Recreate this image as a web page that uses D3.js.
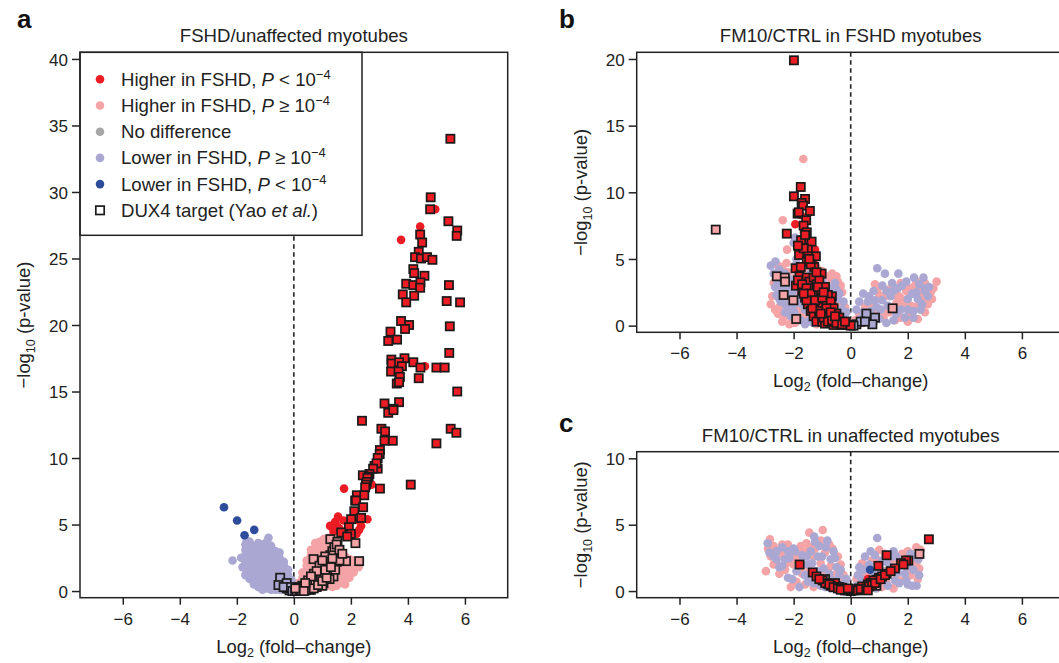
<!DOCTYPE html>
<html>
<head>
<meta charset="utf-8">
<script src="https://cdn.jsdelivr.net/npm/d3@7"></script>
<style>
  body { margin: 0; background: #fff; }
  svg { font-family: "Liberation Sans", Arial, Helvetica, sans-serif; }
  .tick text { font-size: 17px; fill: #222; }
  .tick line { stroke: #222; stroke-width: 1.5; }
</style>
</head>
<body>
<div id="chart"></div>
<script>
// ---- data: [log2 fold-change, -log10 p] ----
const xTicks = [-6, -4, -2, 0, 2, 4, 6];

// panel a: FSHD / unaffected
const aLowerNs = [
  [-2.15,2.3],[-1.80,1.8],[-1.85,2.5],[-1.65,3.8],[-0.89,4.0],
  [-1.7,1.2],[-1.7,1.7],[-1.7,2.2],[-1.7,2.7],[-1.7,3.1],[-1.7,3.5],
  [-1.55,0.9],[-1.55,1.4],[-1.55,1.9],[-1.55,2.4],[-1.55,2.9],[-1.55,3.3],[-1.55,3.7],
  [-1.4,0.5],[-1.4,1.0],[-1.4,1.5],[-1.4,2.0],[-1.4,2.5],[-1.4,3.0],[-1.4,3.4],
  [-1.25,0.3],[-1.25,0.8],[-1.25,1.3],[-1.25,1.8],[-1.25,2.3],[-1.25,2.8],[-1.25,3.2],[-1.25,3.6],
  [-1.1,0.1],[-1.1,0.6],[-1.1,1.1],[-1.1,1.6],[-1.1,2.1],[-1.1,2.6],[-1.1,3.0],[-1.1,3.5],
  [-0.95,0.2],[-0.95,0.7],[-0.95,1.2],[-0.95,1.7],[-0.95,2.2],[-0.95,2.7],[-0.95,3.2],[-0.95,3.7],
  [-0.8,0.1],[-0.8,0.5],[-0.8,1.0],[-0.8,1.5],[-0.8,2.0],[-0.8,2.5],[-0.8,3.0],[-0.8,3.4],
  [-0.65,0.1],[-0.65,0.6],[-0.65,1.1],[-0.65,1.6],[-0.65,2.1],[-0.65,2.6],[-0.65,3.0],
  [-0.5,0.1],[-0.5,0.5],[-0.5,1.0],[-0.5,1.5],[-0.5,2.0],[-0.5,2.5],[-0.5,2.9],
  [-0.35,0.1],[-0.35,0.5],[-0.35,0.9],[-0.35,1.4],[-0.35,1.9],[-0.35,2.2],
  [-0.2,0.1],[-0.2,0.4],[-0.2,0.8],[-0.2,1.2],[-0.2,1.6],
  [-0.08,0.1],[-0.08,0.4],[-0.08,0.8]
];
const aHigherNs = [
  [0.15,0.2],[0.15,0.6],
  [0.3,0.2],[0.3,0.6],[0.3,1.0],[0.3,1.4],
  [0.45,0.3],[0.45,0.7],[0.45,1.1],[0.45,1.5],[0.45,1.9],[0.45,2.3],
  [0.6,0.3],[0.6,0.7],[0.6,1.1],[0.6,1.5],[0.6,1.9],[0.6,2.3],[0.6,2.7],[0.6,3.1],
  [0.75,0.3],[0.75,0.7],[0.75,1.1],[0.75,1.5],[0.75,1.9],[0.75,2.3],[0.75,2.7],[0.75,3.1],[0.75,3.6],
  [0.9,0.3],[0.9,0.7],[0.9,1.1],[0.9,1.5],[0.9,1.9],[0.9,2.3],[0.9,2.7],[0.9,3.2],[0.9,3.7],
  [1.05,0.3],[1.05,0.7],[1.05,1.1],[1.05,1.5],[1.05,1.9],[1.05,2.4],[1.05,2.9],[1.05,3.4],[1.05,3.9],
  [1.2,0.4],[1.2,0.8],[1.2,1.2],[1.2,1.6],[1.2,2.0],[1.2,2.5],[1.2,3.0],[1.2,3.5],[1.2,4.0],
  [1.35,0.3],[1.35,0.8],[1.35,1.2],[1.35,1.6],[1.35,2.0],[1.35,2.5],[1.35,3.0],[1.35,3.5],[1.35,4.1],
  [1.5,0.4],[1.5,0.9],[1.5,1.3],[1.5,1.7],[1.5,2.2],[1.5,2.7],[1.5,3.2],
  [1.65,0.6],[1.65,1.0],[1.65,1.5],[1.65,2.0],[1.65,2.5],[1.65,3.0],
  [1.8,0.5],[1.8,1.1],[1.8,1.6],[1.8,2.1],[1.8,2.6],
  [1.95,1.0],[1.95,1.5],[1.95,2.0],[1.95,2.4],
  [2.1,1.4],[2.1,1.9],[2.1,2.3],[2.27,1.8],[2.27,2.2],[1.74,0.7]
];
const aHigherSig = [
  [4.96,28.7],[4.43,27.4],[3.76,26.4],[4.60,16.9],[1.76,7.7],[2.73,8.0],
  [1.27,4.9],[1.38,4.9],[1.51,4.9],[1.39,4.5],[1.45,5.2],[1.60,4.7],[1.74,5.3],
  [2.36,4.9],[2.58,5.4],[2.29,4.6],[2.27,5.3],[2.20,4.3],[1.55,5.6],[1.65,4.4]
];
const aLowerSig = [[-2.45,6.3],[-1.99,5.3],[-1.39,4.6],[-1.73,4.2]];
const aDuxHigh = [
  [5.49,34.0],[4.80,29.6],[4.78,28.7],[5.42,27.8],[5.73,27.1],[5.71,26.7],[4.43,26.8],[4.50,26.2],
  [4.38,25.5],[4.25,25.1],[4.46,25.0],[4.67,25.1],[4.86,24.9],[4.19,24.2],
  [4.22,23.9],[4.58,23.7],[3.94,23.1],[4.19,23.0],[4.44,23.2],[4.43,22.8],[5.44,23.0],[3.82,22.3],
  [4.22,22.2],[3.94,21.7],[5.36,21.8],[5.83,21.7],
  [3.76,20.3],[4.04,20.0],[3.90,19.7],[3.39,19.5],[3.62,18.9],[3.31,18.8],[5.47,19.9],[5.45,17.9],
  [3.42,17.4],[3.43,17.1],[3.88,17.5],[3.69,17.2],[3.79,16.9],[4.19,17.2],[4.44,16.8],[3.41,16.5],
  [3.67,16.5],[5.00,16.8],[5.29,16.8],[3.72,16.1],[4.38,16.0],[3.61,15.6],[3.69,15.7],[5.73,15.0],
  [3.18,14.1],[3.69,14.2],[3.49,13.7],[3.31,13.4],[3.49,13.6],[2.39,12.8],[5.50,12.2],[5.70,11.9],
  [3.07,12.2],[3.20,12.0],[3.47,11.3],[3.18,11.3],[5.00,11.1],[3.02,10.6],[3.01,10.3],[2.94,10.0],
  [2.83,9.4],[2.94,9.2],[2.90,9.6],[2.78,9.2],[2.65,8.8],[2.42,8.7],[2.62,8.6],[2.58,8.5],[2.56,8.2],
  [2.53,8.0],[3.02,7.7],[4.10,8.0],[2.50,7.8],[2.21,7.2],[2.47,7.2],[2.15,6.8],[2.18,6.8],[2.43,6.3],
  [2.12,6.0],[2.36,5.5],[2.01,5.4],[1.93,4.8],[1.66,4.4],[2.00,4.3],[1.87,4.1]
];
const aDuxMid = [
  [2.16,3.6],[1.28,3.9],[1.83,2.25],[2.29,2.25],[0.69,2.4],[1.53,3.7],[1.16,1.3],[1.39,1.1],
  [0.81,0.7],[1.04,0.6],[1.51,2.2],
  [0.05,0.05],[0.15,0.1],[0.25,0.2],[0.35,0.3],[0.45,0.45],[0.55,0.6],[0.65,0.8],[0.75,1.0],
  [0.85,1.25],[0.95,1.5],[1.05,1.8],[1.12,2.1],[1.2,2.4],[1.28,2.7],[1.35,3.0],[1.42,3.3],
  [1.5,3.5],[1.6,3.1],[0.1,0.0],[0.2,0.05],[0.3,0.1],[0.4,0.15],[0.5,0.25],[0.6,0.35],[0.7,0.5],
  [0.8,0.65],[0.9,0.85],[1.0,1.05],[0.3,0.4],[0.5,0.8],[0.7,1.3],[0.9,1.9],[1.1,2.6],[1.3,2.2],
  [1.2,1.6],[0.2,0.3],[0.6,0.1],[0.8,0.3],[1.0,0.4],[0.4,0.05],[1.25,0.9],[1.45,1.6],[1.6,2.3],[1.7,2.8],
  [0.15,0.25],[0.25,0.05],[0.35,0.15],[0.45,0.25],[0.55,0.35],[0.65,0.5],[0.75,0.6],[0.85,0.8],
  [0.95,1.0],[0.55,0.1],[0.7,0.2],[0.85,0.45],[1.0,0.75],[1.15,1.0],[1.1,1.6],[0.8,1.5],[0.6,1.1],
  [0.4,0.6],[1.3,1.8],[1.35,2.45],[1.0,2.3],[0.35,0.0],[0.05,0.2]
];
const aDuxLow = [[-0.05,0.1],[-0.15,0.05],[-0.25,0.2],[-0.48,1.0],[-0.54,0.45],[-0.25,0.6],[-0.36,0.3],[-0.1,0.3],[-0.05,0.0]];

// panel b: FM10/CTRL in FSHD myotubes
const bLowerNs = [
  [-2.64,4.8],[-2.5,4.2],[-2.3,3.9],[-2.55,3.2],[-2.4,2.7],[-2.2,2.2],[-2.45,1.8],[-2.1,1.4],
  [-2.3,1.0],[-1.95,0.8],[-1.75,0.4],[-1.5,0.3],[-1.3,0.2],[-1.1,0.6],[-0.9,0.3],[-0.7,0.2],
  [-0.5,0.4],[-0.35,0.8],[-0.55,1.3],[-0.8,1.8],[-0.6,2.3],[-0.75,2.8],[-0.55,3.2],[-1.05,3.0],
  [-1.2,2.5],[-1.35,2.0],[-1.6,1.2],[-1.8,2.0],[-2.0,2.8],[-2.15,3.5],[-1.95,4.5],[-2.0,6.2],
  [-1.7,6.5],[-1.9,5.0],[-1.2,3.8],[-1.0,1.6],[-0.3,1.2],[-0.2,0.6],[-0.45,2.0],[-1.4,0.9],
  [-2.6,2.3],[-1.5,5.6],[-1.95,6.6],
  [-2.7,3.9],[-2.45,3.6],[-2.25,3.1],[-2.05,2.5],[-1.85,3.3],[-1.6,3.5],[-1.4,3.9],[-1.0,3.3],
  [-0.85,3.0],[-0.65,2.6],[-0.4,2.4],[-0.25,1.8],[-0.15,1.0],[-0.35,0.2],[-0.6,0.1],[-1.0,0.8],
  [-1.2,1.2],[-1.45,1.4],[-1.7,1.6],[-1.9,1.7],[-2.15,2.6],[-2.3,1.6],[-2.5,2.0],[-2.65,2.9],
  [-2.0,1.1],[-1.6,0.1],[-1.85,0.6],[-2.1,0.7],[-0.7,1.5],[-0.5,2.7],[-0.9,2.6],[-1.15,2.2],
  [-1.35,2.6],[-1.55,2.3],[-1.75,2.3],[-2.8,4.5],
  [0.93,4.3],[1.20,3.9],[1.67,3.9],[2.22,3.6],[2.55,3.6],[2.63,2.8],[1.11,3.0],[0.44,2.4],
  [0.2,1.2],[0.35,0.5],[0.6,1.8],[0.8,2.6],[0.7,1.1],[1.0,0.5],[1.3,1.5],[1.5,2.6],[1.8,3.0],
  [2.0,2.0],[2.3,2.5],[2.5,1.6],[2.2,1.1],[1.9,0.6],[1.6,0.9],[1.4,2.2],[1.1,1.9],[0.9,1.4],
  [0.55,0.3],[2.7,2.2],[2.4,3.1],[1.25,0.2],
  [0.3,1.8],[0.45,1.0],[0.65,2.2],[0.85,1.9],[1.05,1.2],[1.25,2.6],[1.45,3.2],[1.65,2.8],
  [1.75,1.2],[2.0,1.2],[2.15,2.4],[2.35,2.0],[2.6,2.6],[2.75,2.9],[2.45,1.2],[2.2,0.6],
  [1.5,0.4],[0.8,0.2],[0.25,0.2],[1.95,3.3]
];
const bHigherNs = [
  [-1.66,12.5],[-2.38,7.9],[-2.23,5.7],[-2.75,2.2],[-2.6,3.5],[-2.4,4.4],[-2.2,4.0],[-2.35,3.0],
  [-2.2,1.0],[-2.35,0.6],[-2.05,0.4],[-1.85,1.2],[-1.65,0.6],[-1.4,0.4],[-1.2,0.1],[-1.0,0.2],
  [-0.8,0.5],[-0.6,0.7],[-0.4,1.5],[-0.3,2.5],[-0.45,3.3],[-0.5,3.7],[-0.7,3.5],[-0.9,2.4],
  [-1.1,2.0],[-1.25,1.3],[-1.5,1.8],[-1.7,2.7],[-1.95,2.3],[-2.1,1.8],[-2.0,3.3],[-1.8,3.9],
  [-1.55,4.2],[-1.3,4.5],[-1.1,3.5],[-0.85,1.2],[-2.5,2.6],[-0.2,0.2],[-1.85,5.6],[-1.4,6.1],[-1.65,7.0],
  [-2.8,1.6],[-2.65,1.2],[-2.5,1.4],[-2.55,0.9],[-2.4,0.3],[-2.15,0.1],[-1.95,0.2],[-1.75,0.9],
  [-1.55,0.8],[-1.3,1.0],[-1.05,1.0],[-0.75,0.9],[-0.55,1.9],[-0.35,3.0],[-0.2,1.4],[-0.65,3.9],
  [-0.85,3.7],[-1.0,4.1],[-1.2,4.4],[-1.45,4.6],[-1.7,4.3],[-1.95,3.6],[-2.25,3.3],[-2.45,3.9],
  [-2.7,3.2],[-2.55,4.5],[-2.25,4.7],[-2.1,3.1],[-1.85,2.9],[-1.25,2.9],[-0.95,1.9],[-1.45,2.7],
  [-1.65,1.9],[-2.25,1.9],[-0.5,1.0],[-0.15,0.1],
  [3.01,3.3],[2.8,2.5],[2.6,2.1],[2.4,1.9],[2.2,2.9],[1.95,2.6],[1.7,2.2],[1.85,1.5],[2.1,1.5],
  [2.35,0.5],[2.05,0.9],[1.6,1.7],[1.35,2.7],[1.2,1.2],[1.0,2.3],[0.75,0.7],[0.5,1.4],[0.3,0.9],
  [0.85,3.1],[1.55,0.4],[2.6,1.0],[1.75,3.2],[2.45,2.6],[0.15,0.4],
  [0.4,0.2],[0.6,0.6],[0.95,0.9],[1.15,0.6],[1.35,1.0],[1.55,1.3],[1.75,0.6],[2.0,0.3],
  [2.25,1.4],[2.5,2.3],[2.7,1.6],[2.85,2.0],[2.9,2.8],[2.6,3.2],[2.3,3.3],[2.05,2.8],
  [1.55,2.3],[1.2,2.2],[0.95,2.8],[0.7,1.5],[1.8,2.0]
];
const bHigherSig = [[-1.94,7.6],[-1.25,5.7],[-1.45,3.0],[-1.1,2.8],[-0.95,1.3],[-1.75,8.3],[-1.3,4.9],[-0.6,1.5],[-0.8,0.6]];
const bLowerSig = [];
const bDuxHigh = [
  [-1.99,19.9],[-1.75,10.4],[-1.99,9.7],[-1.60,9.5],[-1.72,9.2],[-1.67,9.0],[-1.86,8.4],[-1.82,8.5],
  [-1.43,8.6],[-1.56,7.9],[-1.65,7.5],[-2.24,6.9],[-1.54,7.0],[-1.66,6.4],[-1.74,6.4],[-1.37,6.3],
  [-1.50,5.7],[-1.81,5.3],[-1.22,5.2],[-1.50,5.2],[-1.54,4.8],[-1.93,4.3],[-1.28,4.4],[-1.02,3.9],
  [-1.79,3.7],[-1.54,3.6],[-1.92,3.0],[-0.66,2.2],
  [-1.6,3.0],[-1.45,3.3],[-1.3,3.6],[-1.7,2.6],[-1.5,2.5],[-1.35,2.8],[-1.2,3.1],[-1.1,3.4],
  [-1.6,2.1],[-1.4,2.0],[-1.25,2.3],[-1.05,2.6],[-0.9,2.9],[-1.5,1.6],[-1.3,1.5],[-1.15,1.8],
  [-0.95,2.0],[-0.8,2.3],[-1.4,1.1],[-1.2,1.0],[-1.0,1.4],[-0.85,1.6],[-0.7,1.8],[-1.3,0.7],
  [-1.1,0.6],[-0.9,0.9],[-0.75,1.1],[-0.6,1.3],[-1.2,0.3],[-1.0,0.3],[-0.8,0.5],[-0.65,0.7],
  [-0.5,0.9],[-0.9,0.15],[-0.7,0.2],[-0.55,0.4],[-0.4,0.6],[-0.45,0.1],[-0.3,0.3],[-0.2,0.1],
  [-0.1,0.05],[0.0,0.0],[-0.35,0.05],[-0.6,0.05],[-1.75,4.4],[-1.4,4.6],[-1.2,4.0],[-1.65,5.8],
  [-1.45,5.0],[-1.85,6.0],[-1.6,6.8],
  [-1.85,3.4],[-1.7,3.1],[-1.55,2.8],[-1.4,2.4],[-1.25,1.9],[-1.1,1.1],[-0.95,0.6],[-0.8,0.3],
  [-0.65,0.4],[-0.5,0.2],[-0.3,0.1],[-1.15,2.9],[-1.0,2.1],[-0.85,1.3],[-0.7,1.0],[-0.55,0.7],
  [-1.35,1.3],[-1.55,1.9],[-1.65,2.4],[-1.05,0.9],[-0.2,0.3],[-0.95,2.5]
];
const bDuxMid = [[-4.73,7.2],[-2.59,3.7],[-2.31,3.6],[-2.30,3.3],[-2.35,2.3],[-2.01,1.9],[-1.91,0.5],[1.47,1.3]];
const bDuxLow = [[0.55,0.9],[0.85,0.6],[0.76,0.1],[0.2,0.1],[0.35,0.3],[0.1,0.0],[0.5,0.3]];

// panel c: FM10/CTRL in unaffected myotubes
const cLowerNs = [
  [-2.91,3.6],[-1.28,4.1],[-0.82,3.8],[-0.87,3.3],[-2.6,3.0],[-2.3,2.4],[-2.0,3.2],[-1.7,2.7],
  [-1.5,2.0],[-1.2,1.5],[-1.0,2.6],[-0.7,2.4],[-0.5,1.8],[-0.4,1.2],[-0.6,0.8],[-0.9,0.3],
  [-1.3,0.6],[-1.6,1.2],[-1.9,1.5],[-2.2,1.0],[-2.5,1.8],[-2.7,2.6],[-1.4,3.0],[-1.1,3.4],
  [-0.3,0.5],[-0.15,0.9],[-1.8,0.3],[-2.4,3.3],
  [-2.85,2.9],[-2.6,2.4],[-2.4,1.9],[-2.15,2.5],[-1.95,3.0],[-1.75,2.1],[-1.55,2.6],[-1.35,2.1],
  [-1.15,2.6],[-0.95,1.7],[-0.75,1.3],[-0.55,2.5],[-0.35,1.6],[-0.7,0.2],[-1.05,0.4],[-1.5,0.7],
  [-2.05,0.9],[-1.25,3.7],[-0.6,3.0],[-2.2,3.0],
  [0.93,4.0],[2.37,2.4],[2.31,0.4],[0.3,1.8],[0.5,2.6],[0.7,3.0],[0.4,0.9],[0.8,1.5],[1.1,2.3],
  [1.4,1.8],[1.6,2.6],[1.9,1.3],[2.1,2.8],[2.2,1.6],[1.7,0.6],[1.3,0.4],[1.0,0.8],[0.2,0.4],
  [1.5,3.0],[2.0,0.5],[0.6,0.2],
  [0.25,1.2],[0.45,1.6],[0.65,2.0],[0.85,2.7],[1.05,1.6],[1.25,2.2],[1.45,2.6],[1.65,1.4],
  [1.85,2.3],[2.05,1.9],[2.25,2.6],[2.4,1.2],[1.95,0.8],[1.55,0.8],[0.9,0.2],[2.15,0.4]
];
const cHigherNs = [
  [-0.98,4.6],[-1.45,4.4],[-2.83,3.9],[-2.97,1.5],[-0.64,3.2],[-2.7,3.4],[-2.4,2.8],[-2.2,3.5],
  [-1.9,2.5],[-1.75,3.4],[-1.55,3.6],[-1.3,2.6],[-1.05,2.1],[-0.8,1.6],[-0.55,1.2],[-0.35,2.0],
  [-0.2,0.3],[-0.5,0.4],[-0.8,0.5],[-1.1,0.9],[-1.4,1.0],[-1.7,1.9],[-2.0,2.0],[-2.3,1.6],
  [-2.6,2.1],[-2.8,2.6],[-1.6,0.5],[-1.25,3.2],[-0.9,2.9],[-1.9,0.7],
  [-2.9,3.2],[-2.7,2.0],[-2.5,1.3],[-2.25,2.1],[-2.05,2.6],[-1.85,3.1],[-1.6,2.9],[-1.45,1.6],
  [-1.2,1.1],[-0.95,1.3],[-0.7,1.9],[-0.45,2.6],[-0.25,1.2],[-0.4,0.7],[-1.3,0.3],[-1.7,1.3],
  [-2.4,3.5],[-1.45,3.3],[-1.05,3.8],[-0.75,3.5],[-2.1,0.3],
  [0.4,2.1],[0.6,1.4],[0.9,2.4],[1.2,2.8],[1.35,1.5],[1.6,2.0],[1.8,2.8],[2.0,3.0],[2.3,3.3],
  [2.2,2.1],[2.4,1.7],[2.1,1.2],[1.8,0.8],[1.5,0.2],[1.1,0.3],[0.8,0.6],[0.3,0.7],[2.35,0.9],[1.0,3.1],
  [0.2,0.9],[0.5,1.1],[0.75,2.3],[1.0,2.0],[1.15,1.5],[1.4,2.4],[1.7,2.4],[1.95,2.6],[2.15,2.4],
  [2.3,2.0],[2.45,3.1],[1.6,1.0],[1.25,0.7],[2.0,1.6],[0.55,0.5]
];
const cHigherSig = [[-1.0,0.95],[0.6,0.9]];
const cLowerSig = [[0.68,1.6]];
const cDuxHigh = [
  [2.74,3.9],[1.26,2.7],[0.97,1.9],[2.02,2.3],[1.94,2.3],[1.76,2.1],[1.55,1.7],[1.26,1.3],[0.99,1.0],
  [-1.79,2.0],[-1.33,1.4],[-0.98,0.8],[-0.89,0.6],[-0.55,0.6],[1.1,1.1],[1.85,2.0],[0.8,0.8],
  [0.6,0.5],[0.4,0.35],[-0.7,0.4],[-0.4,0.3],[-0.25,0.15],
  [-1.2,1.1],[-1.1,0.9],[-0.75,0.5],[-0.6,0.3],[-0.45,0.2],[-0.35,0.1],[0.15,0.15],[0.25,0.05],
  [0.35,0.15],[0.55,0.2],[0.65,0.35],[0.75,0.45],[0.85,0.6],[1.05,0.9],[1.2,1.2],[1.4,1.5],[0.6,0.05],[-0.1,0.2]
];
const cDuxMid = [
  [2.41,2.8],[-0.1,0.05],[0.0,0.0],[0.1,0.05],[0.2,0.1],[0.3,0.2],[0.5,0.3],[0.7,0.6],[0.9,0.85],
  [-0.3,0.25],[-0.5,0.35],[-0.65,0.5],[-0.8,0.55],[-0.9,0.9],[-0.2,0.05],[0.45,0.1],[0.9,0.4]
];
const cDuxLow = [];

const colors = {
  higherSig: '#ec1c24',
  higherNs: '#f4a3a6',
  none: '#a6a6a6',
  lowerNs: '#aaa8d3',
  lowerSig: '#2e4c9c'
};

const svg = d3.select('#chart').append('svg')
    .attr('width', 1059)
    .attr('height', 663);

svg.append('rect').attr('width', 1059).attr('height', 663).attr('fill', '#fff');

class VolcanoPanel {

  constructor(_config, _data) {
    this.config = {
      left: _config.left,
      top: _config.top,
      width: _config.width,
      height: _config.height,
      yMax: _config.yMax,
      title: _config.title,
      letter: _config.letter,
      letterPos: _config.letterPos,
      legend: _config.legend || false,
      dotRadius: 4.3,
      squareSize: 8.2
    }
    this.data = _data;
    this.initVis();
  }

  initVis() {
    let vis = this;
    const c = vis.config;

    vis.xScale = d3.scaleLinear().domain([-7.5, 7.5]).range([0, c.width]);
    vis.yScale = d3.scaleLinear().domain([-0.5, c.yMax + 0.5]).range([c.height, 0]);

    vis.g = svg.append('g')
        .attr('transform', `translate(${c.left},${c.top})`);

    // axes, outward ticks like base R
    vis.g.append('g')
        .attr('transform', `translate(0,${c.height})`)
        .call(d3.axisBottom(vis.xScale).tickValues(xTicks).tickSizeOuter(0).tickSize(7).tickPadding(8))
        .call(g => g.select('.domain').remove());

    vis.g.append('g')
        .call(d3.axisLeft(vis.yScale).tickValues(d3.range(0, c.yMax + 1, 5)).tickSizeOuter(0).tickSize(8).tickPadding(4))
        .call(g => g.select('.domain').remove())
        .call(g => g.selectAll('.tick text').attr('dy', '0.36em'));

    // dashed line at zero fold change
    vis.g.append('line')
        .attr('x1', vis.xScale(0)).attr('x2', vis.xScale(0))
        .attr('y1', 0).attr('y2', c.height)
        .attr('stroke', '#222')
        .attr('stroke-width', 1.6)
        .attr('stroke-dasharray', '4.5,3.5');

    // titles
    svg.append('text')
        .attr('x', c.left + c.width / 2)
        .attr('y', c.top - 10)
        .attr('text-anchor', 'middle')
        .style('font-size', '18.6px')
        .attr('fill', '#222')
        .text(c.title);

    svg.append('text')
        .attr('x', c.letterPos[0])
        .attr('y', c.letterPos[1])
        .style('font-size', '26px')
        .style('font-weight', 'bold')
        .attr('fill', '#111')
        .text(c.letter);

    const xLab = svg.append('text')
        .attr('x', c.left + c.width / 2)
        .attr('y', c.top + c.height + 55)
        .attr('text-anchor', 'middle')
        .style('font-size', '18.4px')
        .attr('fill', '#222');
    xLab.append('tspan').text('Log');
    xLab.append('tspan').attr('dy', 4).style('font-size', '12.5px').text('2');
    xLab.append('tspan').attr('dy', -4).text(' (fold–change)');

    const yLab = svg.append('text')
        .attr('transform', `translate(${c.left - 50},${c.top + c.height / 2}) rotate(-90)`)
        .attr('text-anchor', 'middle')
        .style('font-size', '18.4px')
        .attr('fill', '#222');
    yLab.append('tspan').text('−log');
    yLab.append('tspan').attr('dy', 5).style('font-size', '12.5px').text('10');
    yLab.append('tspan').attr('dy', -5).text(' (p-value)');

    vis.renderVis();
  }

  renderVis() {
    let vis = this;
    const c = vis.config;
    const d = vis.data;

    // pink drawn under lavender so the mixed clouds show both colours
    const dotLayers = [
      [d.higherNs, colors.higherNs],
      [d.lowerNs, colors.lowerNs],
      [d.higherSig, colors.higherSig],
      [d.lowerSig, colors.lowerSig]
    ];
    dotLayers.forEach(([pts, col]) => {
      vis.g.append('g')
          .selectAll('circle')
          .data(pts)
          .join('circle')
          .attr('cx', p => vis.xScale(p[0]))
          .attr('cy', p => vis.yScale(p[1]))
          .attr('r', c.dotRadius)
          .attr('fill', col);
    });

    const sqLayers = [
      [d.duxLow, colors.lowerNs],
      [d.duxMid, colors.higherNs],
      [d.duxHigh, colors.higherSig]
    ];
    const s = c.squareSize;
    sqLayers.forEach(([pts, col]) => {
      vis.g.append('g')
          .selectAll('rect')
          .data(pts)
          .join('rect')
          .attr('x', p => vis.xScale(p[0]) - s / 2)
          .attr('y', p => vis.yScale(p[1]) - s / 2)
          .attr('width', s)
          .attr('height', s)
          .attr('fill', col)
          .attr('stroke', '#1a1a1a')
          .attr('stroke-width', 1.7);
    });

    if (c.legend) vis.renderLegend();

    // plot frame on top
    vis.g.append('rect')
        .attr('width', c.width)
        .attr('height', c.height)
        .attr('fill', 'none')
        .attr('stroke', '#222')
        .attr('stroke-width', 1.5);
  }

  renderLegend() {
    let vis = this;
    const rows = [
      {kind: 'dot', color: colors.higherSig, label: 'Higher in FSHD, ', rel: '<'},
      {kind: 'dot', color: colors.higherNs, label: 'Higher in FSHD, ', rel: '≥'},
      {kind: 'dot', color: colors.none, label: 'No difference'},
      {kind: 'dot', color: colors.lowerNs, label: 'Lower in FSHD, ', rel: '≥'},
      {kind: 'dot', color: colors.lowerSig, label: 'Lower in FSHD, ', rel: '<'},
      {kind: 'square', label: 'DUX4 target (Yao '}
    ];
    const lg = vis.g.append('g');
    lg.append('rect')
        .attr('width', 282).attr('height', 183)
        .attr('fill', '#fff')
        .attr('stroke', '#222')
        .attr('stroke-width', 1.5);

    rows.forEach((r, i) => {
      const cy = 27 + i * 26.2;
      if (r.kind === 'dot') {
        lg.append('circle').attr('cx', 20).attr('cy', cy).attr('r', 4.3).attr('fill', r.color);
      } else {
        lg.append('rect').attr('x', 15.8).attr('y', cy - 4.2).attr('width', 8.4).attr('height', 8.4)
            .attr('fill', '#fff').attr('stroke', '#1a1a1a').attr('stroke-width', 1.7);
      }
      const t = lg.append('text')
          .attr('x', 41).attr('y', cy + 6.5)
          .style('font-size', '18.6px')
          .attr('fill', '#222');
      t.append('tspan').text(r.label);
      if (r.rel) {
        t.append('tspan').style('font-style', 'italic').text('P');
        t.append('tspan').text(' ' + r.rel + ' 10');
        t.append('tspan').attr('dy', -7).style('font-size', '13px').text('−4');
      }
      if (r.kind === 'square') {
        t.append('tspan').style('font-style', 'italic').text('et al.');
        t.append('tspan').text(')');
      }
    });
  }
}

new VolcanoPanel({
  left: 80, top: 52.3, width: 427.7, height: 545.4, yMax: 40,
  title: 'FSHD/unaffected myotubes', letter: 'a', letterPos: [17, 28], legend: true
}, {
  lowerNs: aLowerNs, higherNs: aHigherNs, higherSig: aHigherSig, lowerSig: aLowerSig,
  duxHigh: aDuxHigh, duxMid: aDuxMid, duxLow: aDuxLow
});

new VolcanoPanel({
  left: 636.7, top: 52.3, width: 428, height: 280, yMax: 20,
  title: 'FM10/CTRL in FSHD myotubes', letter: 'b', letterPos: [559, 28]
}, {
  lowerNs: bLowerNs, higherNs: bHigherNs, higherSig: bHigherSig, lowerSig: bLowerSig,
  duxHigh: bDuxHigh, duxMid: bDuxMid, duxLow: bDuxLow
});

new VolcanoPanel({
  left: 636.7, top: 451.7, width: 428, height: 146, yMax: 10,
  title: 'FM10/CTRL in unaffected myotubes', letter: 'c', letterPos: [559, 432]
}, {
  lowerNs: cLowerNs, higherNs: cHigherNs, higherSig: cHigherSig, lowerSig: cLowerSig,
  duxHigh: cDuxHigh, duxMid: cDuxMid, duxLow: cDuxLow
});
</script>
</body>
</html>
